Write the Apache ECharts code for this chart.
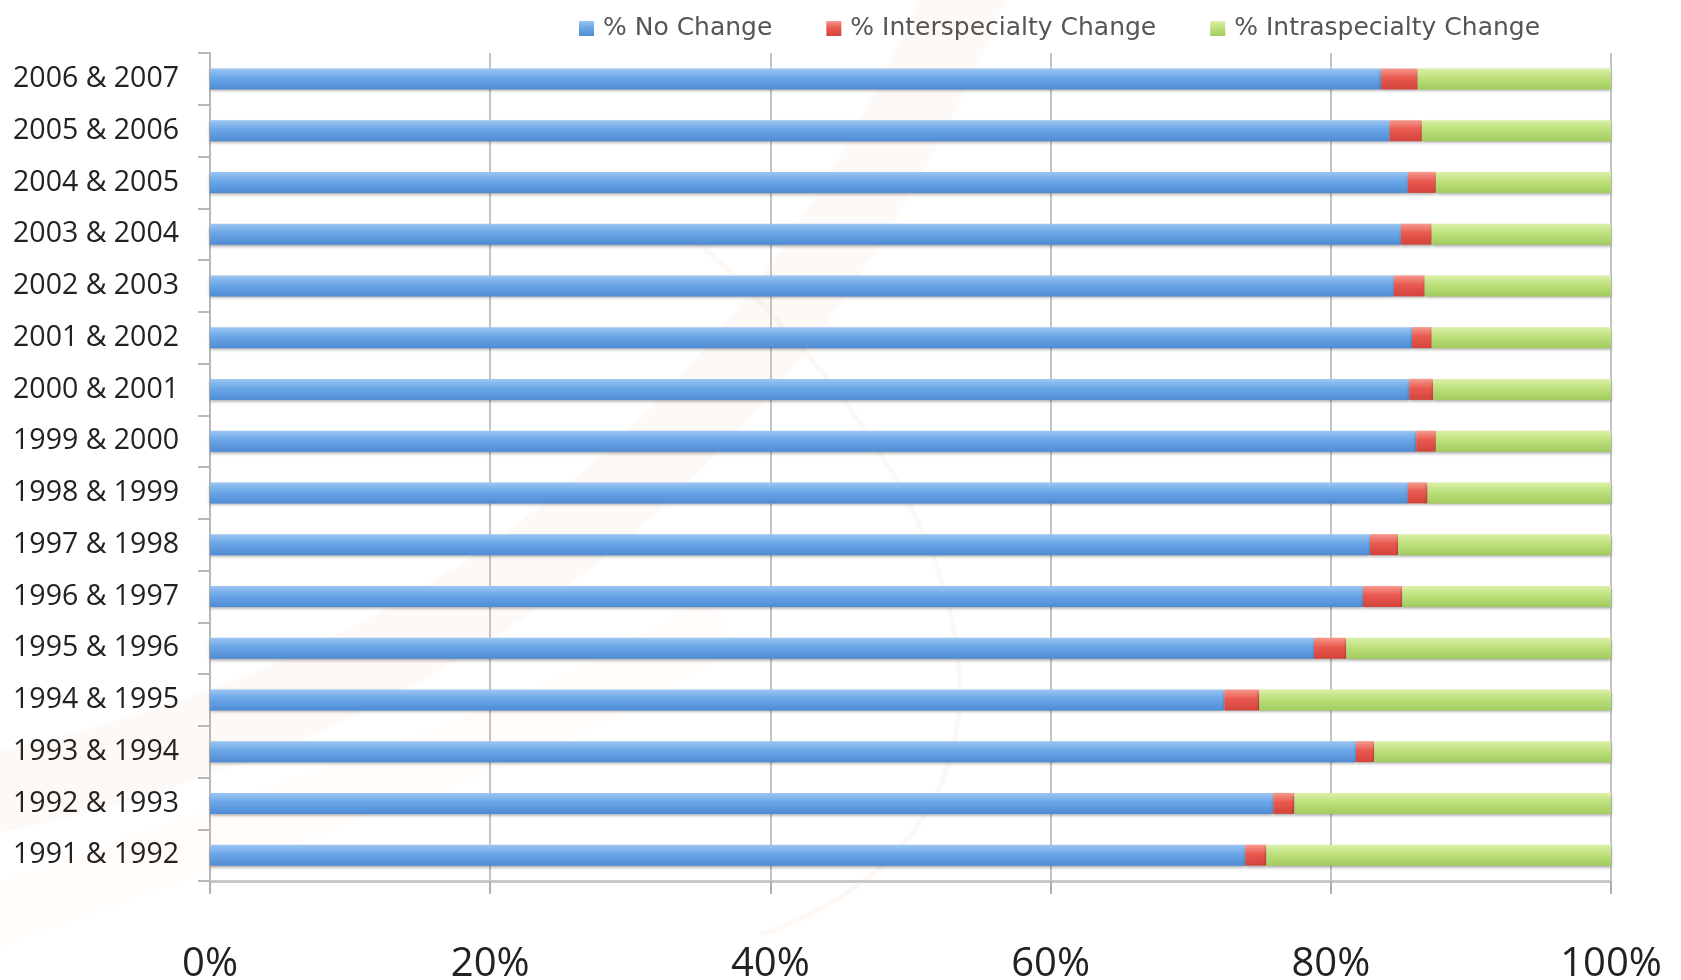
<!DOCTYPE html>
<html>
<head>
<meta charset="utf-8">
<script src="https://cdn.jsdelivr.net/npm/echarts@6/dist/echarts.min.js"></script>
<style>
  html, body { margin: 0; padding: 0; background: #fff; }
  #main { width: 1681px; height: 980px; }
</style>
</head>
<body>
<div id="main"></div>
<script>
// categories, bottom to top
const pairs = ['1991 & 1992', '1992 & 1993', '1993 & 1994', '1994 & 1995', '1995 & 1996',
  '1996 & 1997', '1997 & 1998', '1998 & 1999', '1999 & 2000', '2000 & 2001',
  '2001 & 2002', '2002 & 2003', '2003 & 2004', '2004 & 2005', '2005 & 2006', '2006 & 2007'];

const noChange = [73.9, 75.9, 81.8, 72.4, 78.8, 82.3, 82.8, 85.5, 86.1, 85.6, 85.8, 84.5, 85.0, 85.5, 84.2, 83.6];
const interChange = [1.5, 1.5, 1.3, 2.5, 2.3, 2.8, 2.0, 1.4, 1.4, 1.7, 1.4, 2.2, 2.2, 2.0, 2.3, 2.6];
const intraChange = [24.6, 22.6, 16.9, 25.1, 18.9, 14.9, 15.2, 13.1, 12.5, 12.7, 12.8, 13.3, 12.8, 12.5, 13.5, 13.8];

const xTicks = [0, 20, 40, 60, 80, 100];

function grad(top, mid, bottom) {
  return new echarts.graphic.LinearGradient(0, 0, 0, 1, [
    { offset: 0, color: top },
    { offset: 0.45, color: mid },
    { offset: 1, color: bottom }
  ]);
}

const chart = echarts.init(document.getElementById('main'));

function barSeries(name, data, color) {
  return {
    name: name,
    type: 'bar',
    stack: 'total',
    barWidth: 21,
    data: data,
    itemStyle: {
      color: color,
      shadowColor: 'rgba(0,0,0,0.35)',
      shadowBlur: 3,
      shadowOffsetY: 2
    }
  };
}

chart.setOption({
  animation: false,
  backgroundColor: '#ffffff',
  // faint slide watermark behind the plot
  graphic: [
    {
      type: 'bezierCurve', z: 0, silent: true,
      shape: { x1: -40, y1: 800, cpx1: 380, cpy1: 720, cpx2: 760, cpy2: 500, x2: 975, y2: -30 },
      style: { fill: 'none', stroke: 'rgba(238,190,160,0.09)', lineWidth: 80 }
    },
    {
      type: 'bezierCurve', z: 0, silent: true,
      shape: { x1: -40, y1: 930, cpx1: 300, cpy1: 800, cpx2: 560, cpy2: 740, x2: 720, y2: 620 },
      style: { fill: 'none', stroke: 'rgba(250,215,185,0.07)', lineWidth: 60 }
    },
    {
      type: 'bezierCurve', z: 0, silent: true,
      shape: { x1: 690, y1: 235, cpx1: 1010, cpy1: 520, cpx2: 1060, cpy2: 830, x2: 760, y2: 935 },
      style: { fill: 'none', stroke: 'rgba(240,185,145,0.10)', lineWidth: 5 }
    }
  ],
  legend: {
    top: 11,
    left: 574,
    itemWidth: 15,
    itemHeight: 15,
    itemGap: 54,
    icon: 'rect',
    textStyle: { color: '#555', fontSize: 25, fontFamily: 'DejaVu Sans', padding: [0, 0, 0, 4] },
    data: ['% No Change', '% Interspecialty Change', '% Intraspecialty Change']
  },
  grid: { left: 210, right: 70, top: 53, bottom: 99, containLabel: false, outerBoundsMode: 'none' },
  xAxis: {
    type: 'value',
    min: xTicks[0],
    max: xTicks[xTicks.length - 1],
    interval: 20,
    axisLine: { show: true, lineStyle: { color: '#c8c8c8', width: 3 } },
    axisTick: { show: true, length: 13, lineStyle: { color: '#b0b0b0', width: 2 } },
    splitLine: { show: true, lineStyle: { color: '#c4c4c4', width: 2 } },
    axisLabel: {
      formatter: '{value}%',
      fontSize: 40,
      margin: 64,
      color: '#222',
      fontFamily: 'Open Sans'
    }
  },
  yAxis: {
    type: 'category',
    data: pairs,
    axisLine: { show: true, lineStyle: { color: '#b8b8b8', width: 2 } },
    axisTick: { show: true, length: 12, lineStyle: { color: '#b8b8b8', width: 2 } },
    axisLabel: { fontSize: 28.5, margin: 31, color: '#222', fontFamily: 'Open Sans' }
  },
  series: [
    barSeries('% No Change', noChange, grad('#9cc6f3', '#6aa6e6', '#4f8cd4')),
    barSeries('% Interspecialty Change', interChange, grad('#f59a8e', '#e9594f', '#d2433b')),
    barSeries('% Intraspecialty Change', intraChange, grad('#dcf0a8', '#bde07c', '#a2cc5e'))
  ]
});
</script>
</body>
</html>
